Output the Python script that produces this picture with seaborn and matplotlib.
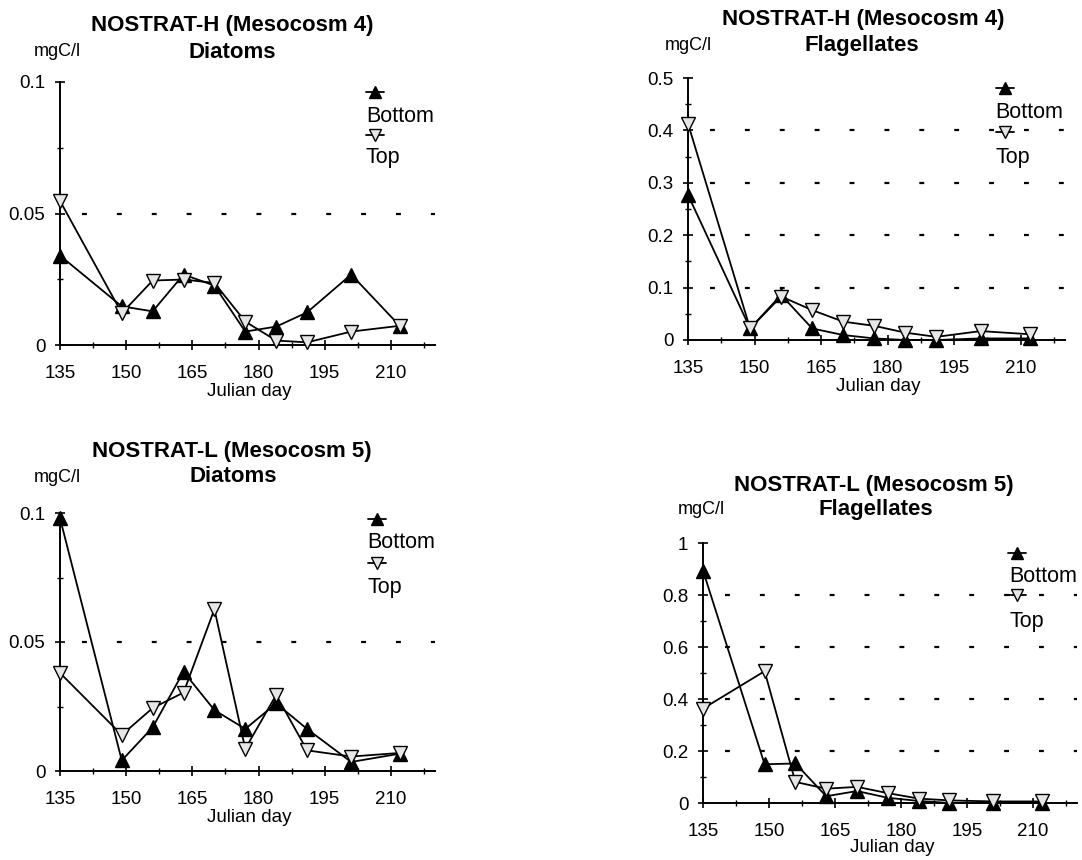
import matplotlib
matplotlib.use("Agg")
import matplotlib.pyplot as plt
import seaborn as sns
from matplotlib.lines import Line2D
from matplotlib.ticker import FixedLocator, FuncFormatter

# Sampling dates (Julian day)
days = [135, 149, 156, 163, 170, 177, 184, 191, 201, 212]

# NOSTRAT-H (Mesocosm 4), mgC/l
h_diatoms_bottom = [0.034, 0.0147, 0.0128, 0.0268, 0.0226, 0.0051, 0.0070, 0.0124, 0.0268, 0.0073]
h_diatoms_top = [0.0548, 0.0121, 0.0245, 0.0249, 0.0236, 0.0089, 0.0017, 0.0010, 0.0051, 0.0073]
h_flag_bottom = [0.277, 0.022, 0.086, 0.022, 0.0095, 0.003, 0.0, 0.0, 0.003, 0.003]
h_flag_top = [0.413, 0.022, 0.083, 0.057, 0.035, 0.027, 0.014, 0.006, 0.017, 0.011]

# NOSTRAT-L (Mesocosm 5), mgC/l
l_diatoms_bottom = [0.098, 0.0041, 0.0169, 0.0385, 0.0236, 0.0163, 0.0262, 0.0163, 0.0035, 0.0067]
l_diatoms_top = [0.038, 0.014, 0.0244, 0.0304, 0.0627, 0.0086, 0.0295, 0.008, 0.0056, 0.007]
l_flag_bottom = [0.894, 0.149, 0.152, 0.026, 0.046, 0.020, 0.008, 0.0, 0.0, 0.0]
l_flag_top = [0.363, 0.507, 0.081, 0.055, 0.062, 0.038, 0.017, 0.010, 0.006, 0.006]

x_major = [135, 150, 165, 180, 195, 210]
x_minor = [142.5, 157.5, 172.5, 187.5, 202.5, 217.5]
diatom_ticks = [0, 0.05, 0.1]
h_flag_ticks = [0, 0.1, 0.2, 0.3, 0.4, 0.5]
l_flag_ticks = [0, 0.2, 0.4, 0.6, 0.8, 1.0]

series_names = ["Bottom", "Top"]
unit_label = "mgC/l"
x_label = "Julian day"

sns.set_style("ticks")
plt.rcParams["font.family"] = ["Liberation Sans", "DejaVu Sans"]
plt.rcParams["text.color"] = "black"
plt.rcParams["xtick.color"] = "black"
plt.rcParams["ytick.color"] = "black"

W, H = 1082, 860
fig = plt.figure(figsize=(W / 100, H / 100), dpi=100)


def fx(x):
    return x / W


def fy(y):
    return 1 - y / H


def rect(left, right, top, bottom):
    return [fx(left), fy(bottom), (right - left) / W, (bottom - top) / H]


panels = [
    dict(rect=rect(60, 435, 82, 345), ticks=diatom_ticks,
         bottom=h_diatoms_bottom, top=h_diatoms_top,
         title=("NOSTRAT-H (Mesocosm 4)", "Diatoms"),
         t1=(232, 25), t2=(232, 52), unit=(57, 52),
         leg=(375, 92, 366, 116, 135, 158), xl=(249, 392)),
    dict(rect=rect(688, 1065, 78, 340), ticks=h_flag_ticks,
         bottom=h_flag_bottom, top=h_flag_top,
         title=("NOSTRAT-H (Mesocosm 4)", "Flagellates"),
         t1=(863, 20), t2=(862, 45), unit=(688, 45),
         leg=(1005, 88, 995, 112, 132, 157), xl=(878, 387)),
    dict(rect=rect(60, 435, 513, 771), ticks=diatom_ticks,
         bottom=l_diatoms_bottom, top=l_diatoms_top,
         title=("NOSTRAT-L (Mesocosm 5)", "Diatoms"),
         t1=(232, 452), t2=(233, 477), unit=(57, 477),
         leg=(377, 519, 367, 543, 563, 588), xl=(249, 817)),
    dict(rect=rect(703, 1077, 543, 803), ticks=l_flag_ticks,
         bottom=l_flag_bottom, top=l_flag_top,
         title=("NOSTRAT-L (Mesocosm 5)", "Flagellates"),
         t1=(874, 486), t2=(876, 510), unit=(701, 510),
         leg=(1017, 553, 1009, 577, 595, 622), xl=(892, 848)),
]

bottom_style = dict(marker="^", markersize=10, markerfacecolor="black",
                    markeredgecolor="black", markeredgewidth=1.0)
top_style = dict(marker="v", markersize=10, markerfacecolor="#e6e6e6",
                 markeredgecolor="black", markeredgewidth=1.0)

for p in panels:
    ax = fig.add_axes(p["rect"])
    ticks = p["ticks"]
    ymax = ticks[-1]
    step = ticks[1] - ticks[0]

    # dotted reference lines at the inner major ticks
    for t in ticks[1:-1]:
        ax.hlines(t, 140, 220, colors="black", linewidth=1.6,
                  linestyles=(0, (2.2, 13.5)), zorder=1)

    sns.lineplot(x=days, y=p["bottom"], ax=ax, color="black", linewidth=1.3,
                 clip_on=False, zorder=3, **bottom_style)
    sns.lineplot(x=days, y=p["top"], ax=ax, color="black", linewidth=1.3,
                 clip_on=False, zorder=4, **top_style)

    ax.set_xlim(135, 220)
    ax.set_ylim(0, ymax)
    ax.set_xlabel("")
    ax.set_ylabel("")

    ax.xaxis.set_major_locator(FixedLocator(x_major))
    ax.xaxis.set_minor_locator(FixedLocator(x_minor))
    ax.yaxis.set_major_locator(FixedLocator(ticks))
    ax.yaxis.set_minor_locator(FixedLocator([t + step / 2 for t in ticks[:-1]]))
    ax.yaxis.set_major_formatter(FuncFormatter(lambda v, _: "%g" % round(v, 4)))
    ax.xaxis.set_major_formatter(FuncFormatter(lambda v, _: "%d" % v))

    ax.tick_params(axis="both", which="both", bottom=True, left=True,
                   top=False, right=False)
    ax.tick_params(axis="both", which="major", direction="inout", length=7,
                   width=1.2, colors="black", labelsize=13.5)
    ax.tick_params(axis="both", which="minor", direction="inout", length=5,
                   width=1.0, colors="black")
    ax.tick_params(axis="x", which="major", pad=11)
    ax.tick_params(axis="y", which="major", pad=7)

    for side in ("top", "right"):
        ax.spines[side].set_visible(False)
    for side in ("left", "bottom"):
        ax.spines[side].set_color("black")
        ax.spines[side].set_linewidth(1.4)
    ax.set_facecolor("none")

    # titles and unit
    fig.text(fx(p["t1"][0]), fy(p["t1"][1]), p["title"][0], ha="center",
             va="center", fontsize=16, fontweight="bold")
    fig.text(fx(p["t2"][0]), fy(p["t2"][1]), p["title"][1], ha="center",
             va="center", fontsize=16, fontweight="bold")
    fig.text(fx(p["unit"][0]), fy(p["unit"][1]), unit_label, ha="center",
             va="center", fontsize=13)
    fig.text(fx(p["xl"][0]), fy(p["xl"][1]), x_label, ha="center",
             va="center", fontsize=13.5)

    # stacked legend: glyph above each label
    mx, my1, tx, ty1, my2, ty2 = p["leg"]
    for my, ty, name, style in ((my1, ty1, series_names[0], bottom_style),
                                (my2, ty2, series_names[1], top_style)):
        fig.add_artist(Line2D([fx(mx - 9), fx(mx + 9)], [fy(my), fy(my)],
                              color="black", linewidth=1.3))
        glyph = dict(style)
        glyph["markersize"] = 8
        fig.add_artist(Line2D([fx(mx)], [fy(my)], linestyle="none", **glyph))
        fig.text(fx(tx), fy(ty), name, ha="left", va="center", fontsize=15.5)

fig.savefig("out.png", dpi=100, facecolor="white")
